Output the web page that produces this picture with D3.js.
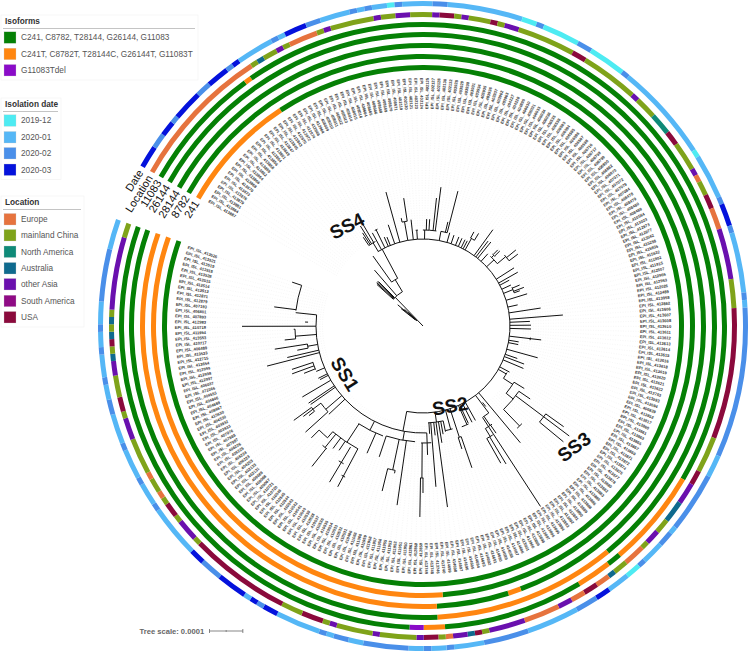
<!DOCTYPE html>
<html><head><meta charset="utf-8">
<script src="https://cdnjs.cloudflare.com/ajax/libs/d3/7.8.5/d3.min.js"></script>
<style>html,body{margin:0;padding:0;background:#fff}svg{display:block;font-family:"Liberation Sans",Arial,sans-serif}</style>
</head><body><div id="chart"></div>
<script>
const leafCount = 259;
const accessions = [
413887,413884,413881,413879,413876,413873,413870,413868,413866,413864,
413862,413859,413858,413856,413854,413851,413849,413847,413845,413843,
412970,412972,412974,412968,412964,408009,408010,408011,408012,408013,
408014,408015,408016,408664,408665,408666,408668,408669,408670,408671,
402119,402120,402121,402123,402124,402125,402127,402128,402130,402132,
403928,403929,403930,403931,403934,403935,403936,403937,403962,403963,
404227,404228,404895,406030,406031,406033,406034,406036,406535,406538,
406593,406594,406595,406596,406597,406598,406716,406717,406798,406799,
406800,406862,406970,407071,407072,407079,407084,408478,408479,408480,
408489,410564,413023,412973,412977,413562,415258,415935,415632,411902,
411915,412507,412966,412953,412026,412489,413958,412862,413606,413607,
413608,413610,413611,413612,413613,413614,413615,413616,413618,413619,
413620,413621,413622,412753,413593,413694,406839,413852,413817,413860,
413861,413863,413865,413867,413869,413871,413872,413874,413875,413877,
413878,413880,413882,413883,413885,413886,413888,413889,413890,413891,
413892,413893,413894,413895,413896,413897,413898,413899,413900,413901,
414686,414687,414688,414689,414690,414691,414692,414693,414694,414695,
414696,414697,414698,414699,413740,413746,413748,413749,412859,412860,
412861,411950,411951,411952,411953,411955,411956,411957,411958,411959,
411060,411066,410486,410531,410532,410533,410534,410535,410536,410537,
410538,410539,410540,410541,410542,410543,410544,410545,410546,410720,
410721,409067,409068,409069,402131,402133,404253,406223,406224,406225,
406226,407987,407988,407976,403933,403932,404530,415630,408667,404669,
404846,404553,472366,406037,412997,412998,412999,413654,412715,413523,
406489,410717,413553,411954,410718,412983,407893,406801,407193,412879,
412871,413513,413514,413515,413528,413518,413519,413521,413526];

const isoformNames = ["C241, C8782, T28144, G26144, G11083","C241T, C8782T, T28144C, G26144T, G11083T","G11083Tdel"];
const isoformColors = ["#058005","#ff8610","#8a0bc8"];
const dateNames = ["2019-12","2020-01","2020-02","2020-03"];
const dateColors = ["#4eebf2","#55b7f6","#4a8fe9","#0412dc"];
const locationNames = ["Europe","mainland China","North America","Australia","other Asia","South America","USA"];
const locationColors = ["#e6733e","#7fa31a","#0f8a78","#0f6a8e","#6a10ae","#8f0a85","#8a0a3c"];
const trackNames = ["241","8782","28144","26144","11083","Location","Date"];

// runs: [category index, leaf index where the run stops]
const track241 = [[1,20],[0,259]];
const track8782 = [[0,175],[1,259]];
const track28144 = [[0,163],[1,165],[0,176],[1,259]];
const track26144 = [[0,149],[1,176],[0,259]];
const track11083 = [[0,18],[1,19],[0,134],[1,148],[0,150],[1,155],[0,175],[1,178],[2,180],[0,259]];
const trackLocation = [[0,20],[1,21],[3,22],[1,24],[4,25],[1,26],[0,30],[1,31],[4,32],[1,38],[4,39],[1,41],[4,43],[1,46],[4,47],[6,49],[1,50],[4,51],[1,54],[6,55],[1,56],[4,58],[1,66],[6,68],[1,76],[4,77],[1,80],[2,83],[6,85],[1,89],[4,90],[0,91],[1,93],[6,95],[0,98],[4,105],[1,109],[6,127],[1,132],[6,134],[4,137],[3,140],[1,142],[4,144],[1,145],[0,148],[1,150],[3,151],[0,153],[6,155],[0,157],[4,159],[0,164],[4,169],[1,170],[6,171],[3,172],[4,174],[0,175],[1,176],[6,178],[4,179],[1,184],[4,185],[1,190],[4,191],[1,192],[6,195],[1,198],[6,212],[1,213],[4,216],[1,217],[6,219],[1,220],[0,221],[1,223],[0,224],[1,229],[4,232],[1,233],[6,235],[1,238],[4,240],[3,241],[1,242],[6,243],[3,244],[1,245],[3,246],[1,247],[4,257],[1,259]];
const trackDate = [[3,3],[2,5],[3,7],[2,8],[3,12],[2,14],[3,17],[2,18],[3,19],[1,24],[2,25],[1,26],[3,29],[2,31],[1,35],[2,36],[1,37],[2,38],[1,40],[0,41],[2,42],[1,46],[2,48],[1,58],[0,60],[2,61],[0,66],[2,68],[0,73],[2,74],[1,87],[0,88],[1,94],[2,95],[3,98],[2,99],[1,107],[2,108],[1,109],[2,129],[1,132],[2,140],[1,141],[2,143],[1,146],[2,147],[0,149],[1,152],[3,154],[2,157],[1,164],[2,170],[1,174],[2,175],[1,177],[2,178],[1,180],[2,186],[1,188],[2,190],[1,191],[2,192],[1,198],[3,200],[2,201],[3,202],[1,203],[3,207],[2,210],[3,212],[1,219],[2,220],[1,223],[2,224],[1,228],[2,229],[1,233],[2,235],[1,237],[2,238],[1,241],[2,242],[1,244],[2,245],[1,248],[2,255],[1,259]];

// tree: radial edges [leaf position, divergence from, divergence to] in 1e-6 subs/site
const radialEdges = [
[12.1,0,120],[7.7,24,99],[9.2,24,75],[9.9,30,60],[6.6,30,84],
[9.2,120,186],[9.9,120,190],[10.7,120,191],[11.4,120,189],[14.4,120,222],[21.8,120,162],[18.4,162,258],[24,162,261],
[21.8,261,291],[21,291,354],[22.1,291,354],[19.6,291,321],[20.3,291,333],[23.6,261,318],[25.5,261,321],[28.4,261,288],[27.3,261,291],[30.7,261,321],[33.3,261,417],
[37.3,261,318],[38.4,318,388],[36.3,318,330],[40,261,321],[42,261,288],[45.5,261,288],[46.2,288,321],[47.4,288,321],[49.2,288,386],[50.2,288,420],
[52.7,261,289],[54.7,289,321],[55.5,289,418],[56.6,261,291],[58.7,261,288],[61,261,288],[62.5,261,288],[64,261,288],[65.1,261,288],
[66.2,261,300],[65.8,300,321],[67.7,300,324],[71.4,261,357],[72.5,261,321],[73.6,261,324],[75.8,261,291],
[79.6,261,291],[78.1,291,300],[78.6,300,322],[77.7,300,320],[81.8,291,324],[82.3,324,360],[83.9,324,357],
[87.3,261,324],[89.5,261,327],[90.7,261,293],[92.9,261,291],[95.1,261,291],[94.4,291,315],[95.9,291,324],[96.6,291,309],[98.7,261,327],
[102.1,261,291],[105,261,357],[108.1,261,421],[109.6,261,321],[111.1,261,324],[112.6,261,324],[116.4,261,357],[118.4,261,291],[119.6,261,291],[122.9,261,357],[125.5,261,299],[126.7,261,324],[128.4,261,327],[132.2,261,294],
[133.6,261,288],[135.9,288,321],[134.9,321,357],[140.3,321,348],[138.8,348,453],[136.8,348,389],[137.8,453,519],[138.8,453,549],[140.7,453,546],[145.5,348,417],
[148.6,261,456],[150.6,261,327],[153.6,327,646],[152.9,327,360],[152.7,360,389],[154.9,360,388],[155.1,388,483],[156.2,388,473],[150,291,306],
[156.6,261,324],[158.1,261,324],[159.6,261,321],[160.3,261,324],[164.7,261,351],[164,351,450],[165.1,351,387],[167,261,321],
[172.2,261,291],[172.4,291,548],[174.7,291,484],[171.3,291,355],[169.2,291,324],[170.3,291,330],[173.4,291,330],[175.5,291,324],
[186.1,261,321],[176.6,321,351],[176.6,351,387],[178.4,351,456],[178.8,456,573],[178.1,456,501],[185.5,321,348],[184.2,348,543],[186.9,348,441],[188.4,441,510],[186.2,441,450],[191.8,348,414],
[198.1,321,351],[195.7,351,417],[202.7,351,417],[198.8,417,546],[201,423,546],[205,417,456],[203.3,417,450],[206.9,417,468],[206.5,468,537],[208.1,417,441],[211.4,441,474],
[212.8,321,387],[214.7,321,384],[213.6,384,475],[217.3,384,414],[218,414,480],[217.3,414,450],[216.5,414,435],[222.2,321,420],[219.6,321,414],[218.9,321,411],
[225.1,321,351],[224.4,321,348],[227.7,321,348],[228.7,348,384],[229.9,348,418],[231.2,348,414],[234.1,321,483],[235.1,321,418],[237.4,321,351],[238.2,351,450],[236.7,351,384],
[241.4,321,384],[240.5,384,417],[243.7,384,388],[244.7,321,543],[246.2,345,354],[249.2,321,384],[250.2,384,450],[258.5,384,414]];
// arc edges [leaf position from, leaf position to, divergence]
const arcEdges = [
[21.6,186.1,261],[176.6,249.2,321],
[9.2,21.8,120],[18.4,24,162],[19.6,23,291],[24.9,26.1,321],[36.3,38.4,318],[41.5,42.5,288],[44.7,50.7,288],[52.7,55.5,289],[65.8,67.7,300],
[77.4,81.8,291],[77.4,78.8,300],[81,83.9,324],[94,96.6,291],[116,117,324],[132.9,135.9,288],[134.9,140.3,321],[136.8,145.5,348],[137.8,140.7,453],[144.5,146.5,417],
[150.6,153.3,327],[152.1,154.9,360],[153.9,156.2,388],[159.6,162.5,324],[164,165.1,351],[166.2,169.2,321],[169.2,175.9,291],
[175.1,178.8,351],[178,178.9,456],[181,191.8,348],[186.2,188.4,441],[192.9,202.9,351],[198.8,208.1,417],[198.3,199.3,510],[200.3,201.8,477],[206.3,207.8,468],[208.1,211.4,441],
[213.6,217.3,384],[216.5,218,414],[228.4,231.4,348],[236.7,238.2,351],[240.5,243.7,384],[249.9,258.5,384]];
const cladeLabels = [["SS4",347,226,-27],["SS1",345,374,58],["SS2",450,406,-10],["SS3",574,447,-37]];
const treeScaleValue = 100;

const W=750,H=653,cx=423,cy=326,rad=Math.PI/180;
const svg=d3.select("#chart").append("svg").attr("width",W).attr("height",H);
const r=d3.scaleLinear().domain([0,720]).range([0,240]);
const a=d3.scaleLinear().domain([0,leafCount]).range([-60.4*rad,289.2*rad]);
const plot=svg.append("g").attr("transform",`translate(${cx},${cy})`);

// leaf guides
const lineR=d3.lineRadial().angle(d=>a(d[0])).radius(d=>r(d[1]));
plot.append("g").selectAll("path").data(accessions).join("path")
 .attr("d",(d,i)=>lineR([[i+.5,300],[i+.5,648]]))
 .attr("fill","none").attr("stroke","#e6e6e6").attr("stroke-width",.35).attr("stroke-dasharray","1 1.5");

// tree
const tree=plot.append("g").attr("fill","none").attr("stroke","#111").attr("stroke-width",1);
tree.selectAll("path.r").data(radialEdges).join("path").attr("class","r").attr("d",d=>lineR([[d[0],d[1]],[d[0],d[2]]]));
tree.selectAll("path.a").data(arcEdges).join("path").attr("class","a").attr("d",d=>{
  const p=d3.path();p.arc(0,0,r(d[2]),a(d[0])-Math.PI/2,a(d[1])-Math.PI/2);return p.toString();});

// leaf labels
plot.append("g").attr("opacity",.99).selectAll("text").data(accessions).join("text")
 .attr("transform",(d,i)=>{
   const c=a(i+.5)/rad,flip=c>=180||c<0;
   return `rotate(${c-90}) translate(${r(651)},0)`+(flip?" rotate(180)":"");})
 .attr("text-anchor",(d,i)=>{const c=a(i+.5)/rad;return (c>=180||c<0)?"end":"start";})
 .attr("dy","0.35em").attr("font-size",4.1).attr("font-weight","bold").attr("fill","#333")
 .text(d=>"EPI_ISL_"+d);

// tracks
const tracks=[
 {runs:track241,colors:isoformColors,r0:256,r1:261},
 {runs:track8782,colors:isoformColors,r0:267,r1:272},
 {runs:track28144,colors:isoformColors,r0:278,r1:283},
 {runs:track26144,colors:isoformColors,r0:289,r1:294},
 {runs:track11083,colors:isoformColors,r0:299,r1:304},
 {runs:trackLocation,colors:locationColors,r0:309,r1:314},
 {runs:trackDate,colors:dateColors,r0:320,r1:325}];
const arc=d3.arc();
tracks.forEach((t,ti)=>{
  let start=0;
  t.runs.forEach(run=>{
    plot.append("path").attr("d",arc({innerRadius:t.r0,outerRadius:t.r1,startAngle:a(start),endAngle:a(run[1])})).attr("fill",t.colors[run[0]]);
    start=run[1];
  });
  const an=a(-0.6),rm=(t.r0+t.r1)/2;
  plot.append("text").attr("transform",`translate(${rm*Math.sin(an)},${-rm*Math.cos(an)}) rotate(-58)`)
   .attr("text-anchor","end").attr("dy","0.35em").attr("font-size",11).attr("fill","#111").text(trackNames[ti]);
});

// clade labels
svg.append("g").selectAll("text").data(cladeLabels).join("text")
 .attr("transform",d=>`translate(${d[1]},${d[2]}) rotate(${d[3]})`)
 .attr("text-anchor","middle").attr("dy","0.35em").attr("font-size",19).attr("font-weight","bold").attr("fill","#111").text(d=>d[0]);

// legends
function legend(title,names,colors,y0,w,rowY){
  const g=svg.append("g");
  g.append("rect").attr("x",1).attr("y",y0-6).attr("width",w+2).attr("height",rowY[rowY.length-1]-y0+16).attr("fill","#fff").attr("stroke","#f3f3f3").attr("stroke-width",.7);
  g.append("text").attr("x",5).attr("y",y0+3).attr("font-size",8.25).attr("font-weight","bold").attr("fill","#333").text(title);
  g.append("line").attr("x1",3).attr("x2",w).attr("y1",y0+7.5).attr("y2",y0+7.5).attr("stroke","#b5b5b5").attr("stroke-width",.8);
  names.forEach((n,i)=>{
    g.append("rect").attr("x",4).attr("y",rowY[i]-5.5).attr("width",12).attr("height",11.5).attr("fill",colors[i]).attr("stroke","#ccc").attr("stroke-width",.3);
    g.append("text").attr("x",21).attr("y",rowY[i]+3).attr("font-size",8.25).attr("fill","#555").text(n);
  });
}
legend("Isoforms",isoformNames,isoformColors,21,195,[37.3,53.7,70]);
legend("Isolation date",dateNames,dateColors,104,58,[120.3,137,153,169.5]);
legend("Location",locationNames,locationColors,202,81,[219,235,251.5,268,284,300.7,317]);

// tree scale
const barLen=r(treeScaleValue)-r(0),bx=209.5,by=631;
const sb=svg.append("g");
sb.append("text").attr("x",139.5).attr("y",by+3).attr("font-size",7.6).attr("font-weight","bold").attr("fill","#666").text("Tree scale: "+(treeScaleValue/1e6).toFixed(4));
sb.append("line").attr("x1",bx).attr("x2",bx+barLen).attr("y1",by).attr("y2",by).attr("stroke","#555").attr("stroke-width",.7);
[[0,2],[.5,.8],[1,2]].forEach(t=>sb.append("line").attr("x1",bx+barLen*t[0]).attr("x2",bx+barLen*t[0]).attr("y1",by-t[1]).attr("y2",by+t[1]).attr("stroke","#555").attr("stroke-width",.7));
</script></body></html>
